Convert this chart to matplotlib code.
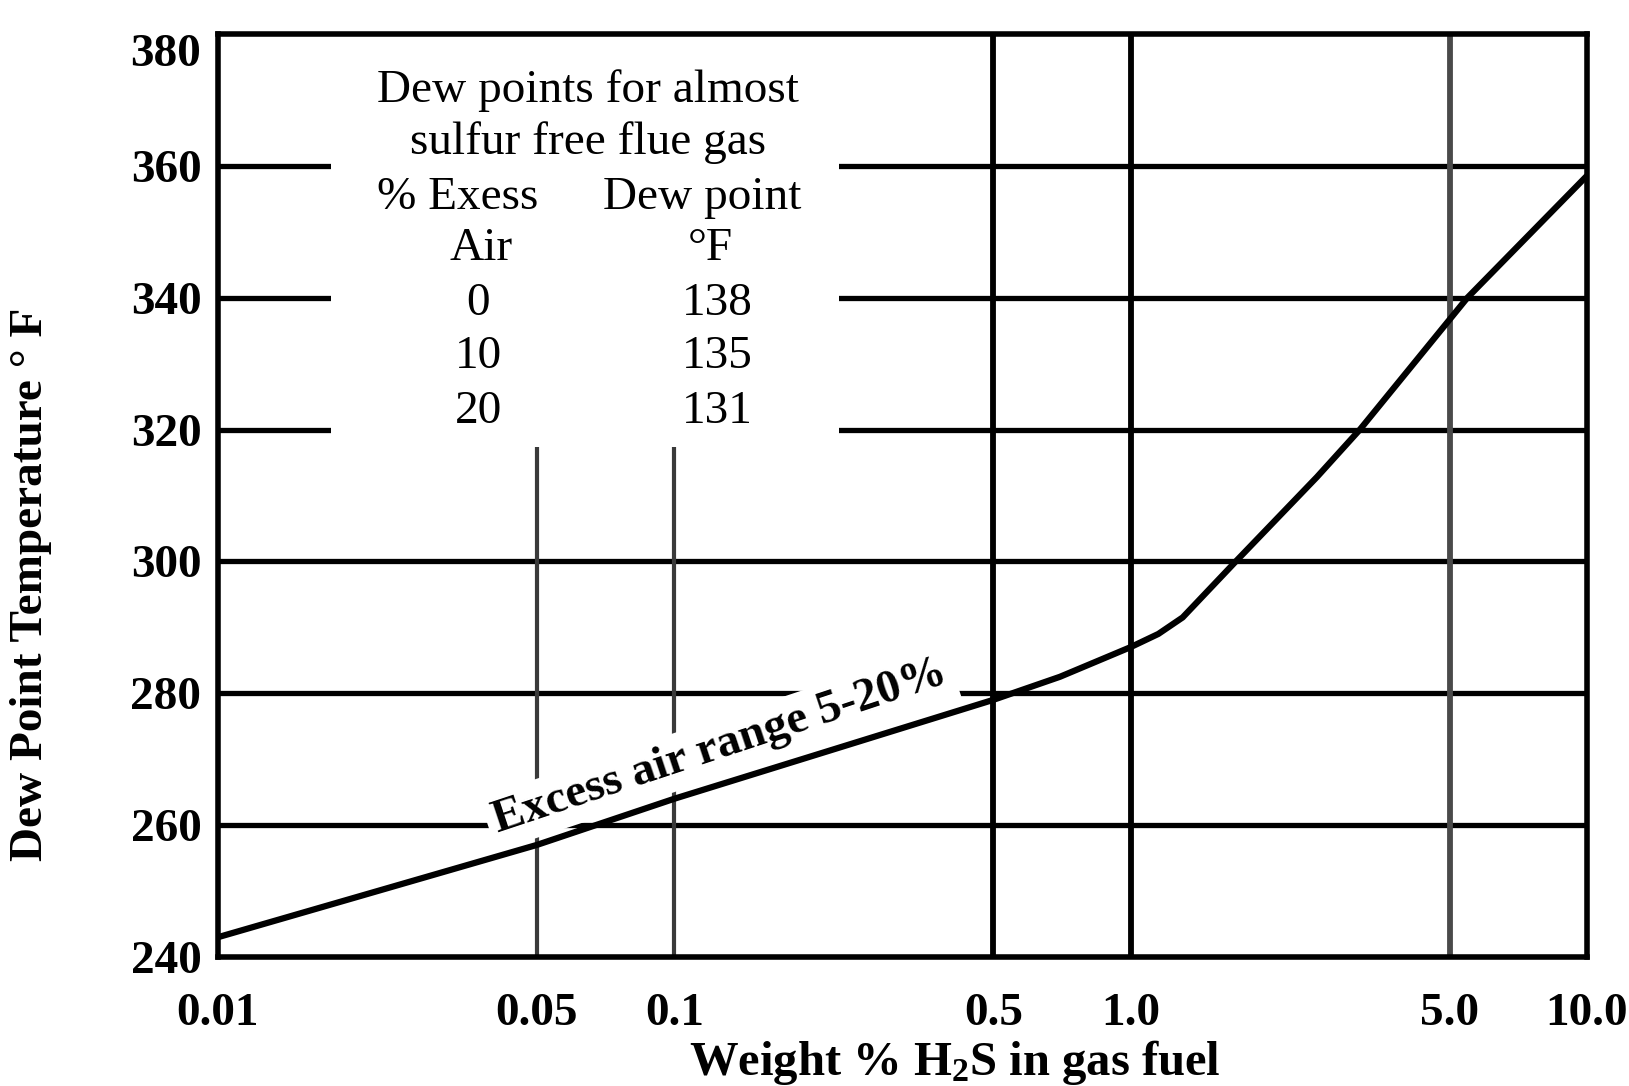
import matplotlib
matplotlib.use("Agg")
import matplotlib.pyplot as plt
from matplotlib.patches import Rectangle
from matplotlib.ticker import FixedLocator, NullLocator

plt.rcParams["font.family"] = ["Liberation Serif", "DejaVu Serif"]
plt.rcParams["mathtext.fontset"] = "custom"
plt.rcParams["mathtext.rm"] = "Liberation Serif:bold"
plt.rcParams["mathtext.bf"] = "Liberation Serif:bold"
plt.rcParams["mathtext.default"] = "bf"

# dew point curve, excess air 5-20 %
h2s_wt_pct = [0.01, 0.05, 0.1, 0.5, 0.7, 1.0, 1.15, 1.3, 1.7, 2.56, 3.18, 5.47, 10.0]
dew_point_f = [243, 257, 264, 279, 282.5, 287, 289, 291.5, 300, 312.8, 320, 340, 358.5]

x_ticks = [0.01, 0.05, 0.1, 0.5, 1.0, 5.0, 10.0]
x_tick_labels = ["0.01", "0.05", "0.1", "0.5", "1.0", "5.0", "10.0"]
y_ticks = [240, 260, 280, 300, 320, 340, 360, 380]

# sulfur-free flue gas table
excess_air = [0, 10, 20]
free_dew_point = [138, 135, 131]

fig = plt.figure(figsize=(16.29, 10.86), dpi=100)
ax = fig.add_axes([0.1338, 0.1188, 0.8404, 0.8499])
ax.set_xscale("log")
ax.set_xlim(0.01, 10.0)
ax.set_ylim(240, 380)

# heavy chart-paper grid
for y in y_ticks[1:-1]:
    ax.axhline(y, color="black", lw=3.8, zorder=1.5)
for x in [0.5, 1.0]:
    ax.axvline(x, color="black", lw=4.2, zorder=1.5)
for x in [0.05, 0.1]:
    ax.axvline(x, color="#3a3a3a", lw=3.0, zorder=1.5)
ax.axvline(5.0, color="#4a4a4a", lw=4.2, zorder=1.5)

# blank area behind the table
ax.add_patch(Rectangle((0.0177, 317.3), 0.23 - 0.0177, 70, facecolor="white",
                       edgecolor="none", zorder=2))

ax.plot(h2s_wt_pct, dew_point_f, color="black", lw=4.5, zorder=4,
        solid_capstyle="butt", solid_joinstyle="round")

for s in ax.spines.values():
    s.set_linewidth(4.0)
    s.set_zorder(5)

ax.xaxis.set_major_locator(FixedLocator(x_ticks))
ax.xaxis.set_minor_locator(NullLocator())
ax.set_xticklabels(x_tick_labels)
ax.set_yticks(y_ticks)
ax.tick_params(axis="both", length=0, labelsize=34)
ax.tick_params(axis="x", pad=26)
ax.tick_params(axis="y", pad=12)
for lbl in ax.get_xticklabels() + ax.get_yticklabels():
    lbl.set_fontweight("bold")
ax.get_yticklabels()[-1].set_verticalalignment("top")

ax.set_xlabel("Weight % H$_2$S in gas fuel", fontsize=35, fontweight="bold")
ax.xaxis.set_label_coords(0.538, -0.088)
ax.set_ylabel("Dew Point Temperature ° F", fontsize=34, fontweight="bold")
ax.yaxis.set_label_coords(-0.121, 0.404)

tk = dict(transform=ax.transAxes, fontsize=34, ha="center", va="center",
          zorder=6)
ax.text(0.270, 0.939, "Dew points for almost", **tk)
ax.text(0.270, 0.882, "sulfur free flue gas", **tk)
ax.text(0.175, 0.823, "% Exess", **tk)
ax.text(0.354, 0.823, "Dew point", **tk)
ax.text(0.192, 0.767, "Air", **tk)
ax.text(0.360, 0.767, "°F", **tk)
rows_y = [0.708, 0.650, 0.591]
for yy, ea, dp in zip(rows_y, excess_air, free_dew_point):
    ax.text(0.190, yy, f"{ea}", **tk)
    ax.text(0.365, yy, f"{dp}", **tk)

ax.text(0.126, 271.8, "Excess air range 5-20%", fontsize=34, fontweight="bold",
        rotation=18.4, rotation_mode="anchor", ha="center", va="center",
        zorder=3,
        bbox=dict(facecolor="white", edgecolor="none", pad=5))

fig.savefig("out.png", dpi=100)
